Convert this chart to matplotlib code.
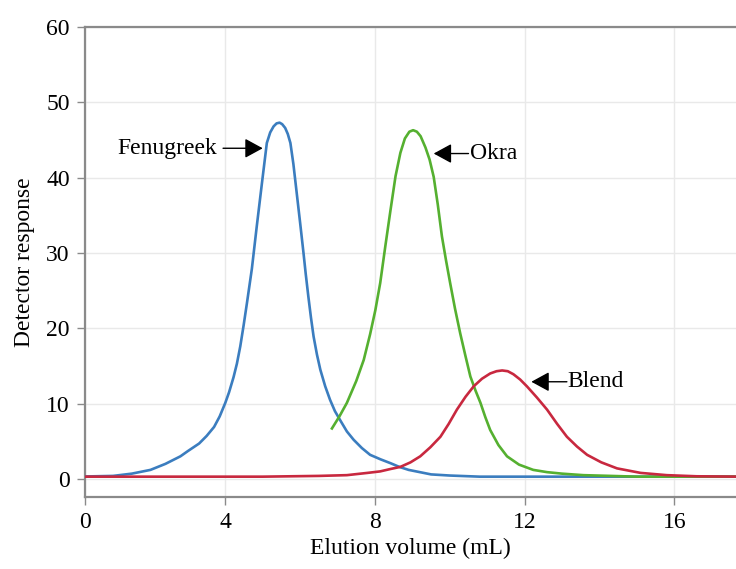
import matplotlib.pyplot as plt

plt.rcParams['font.family'] = ['Liberation Serif', 'DejaVu Serif']

# Fenugreek peak (blue)
fen_x = [0, 0.5, 1.0, 1.5, 2.0, 2.4, 2.8, 3.0, 3.3, 3.5, 3.7, 3.85, 4.0, 4.1, 4.22,
         4.31, 4.4, 4.49, 4.58, 4.71, 4.84, 4.98, 5.11, 5.2, 5.29, 5.37, 5.45, 5.52,
         5.6, 5.67, 5.74, 5.82, 5.91, 6.0, 6.09, 6.15, 6.22, 6.29, 6.36, 6.45, 6.54,
         6.67, 6.8, 6.93, 7.07, 7.25, 7.43, 7.65, 7.87, 8.15, 8.41, 8.65, 8.9, 9.2,
         9.5, 10.0, 10.8, 12.0, 17.7]
fen_y = [0.3, 0.35, 0.4, 0.7, 1.2, 2.0, 3.0, 3.7, 4.7, 5.7, 6.9, 8.3, 10.1, 11.5, 13.5,
         15.3, 17.6, 20.4, 23.4, 27.9, 33.5, 39.3, 44.6, 46.0, 46.8, 47.2, 47.3, 47.1,
         46.6, 45.8, 44.6, 41.8, 37.9, 34.0, 30.0, 27.2, 24.2, 21.4, 18.9, 16.5, 14.5,
         12.3, 10.5, 9.0, 7.8, 6.3, 5.2, 4.1, 3.2, 2.6, 2.1, 1.6, 1.2, 0.9,
         0.6, 0.45, 0.3, 0.3, 0.3]

# Okra peak (green)
okra_x = [6.85, 7.05, 7.25, 7.5, 7.7, 7.87, 8.01, 8.14, 8.28, 8.41, 8.55, 8.68, 8.8,
          8.92, 9.02, 9.12, 9.22, 9.35, 9.46, 9.57, 9.68, 9.79, 9.9, 10.01, 10.14,
          10.28, 10.42, 10.55, 10.69, 10.82, 10.95, 11.08, 11.3, 11.53, 11.85,
          12.23, 12.6, 13.0, 13.57, 14.3, 15.0, 17.7]
okra_y = [6.7, 8.3, 10.1, 13.0, 15.8, 19.2, 22.4, 26.0, 31.0, 35.5, 40.2, 43.3, 45.2,
          46.1, 46.3, 46.1, 45.5, 44.0, 42.4, 40.1, 36.4, 32.2, 29.0, 26.0, 22.6,
          19.3, 16.3, 13.6, 11.7, 10.1, 8.2, 6.5, 4.5, 3.0, 1.9,
          1.2, 0.9, 0.7, 0.5, 0.4, 0.3, 0.3]

# Blend peak (red)
blend_x = [0, 5.0, 6.5, 7.25, 7.8, 8.14, 8.4, 8.68, 8.95, 9.21, 9.48, 9.75, 9.97,
           10.19, 10.42, 10.64, 10.86, 11.08, 11.25, 11.4, 11.55, 11.7, 11.88, 12.06,
           12.33, 12.6, 12.87, 13.13, 13.4, 13.67, 14.05, 14.47, 15.1, 15.8, 16.6, 17.7]
blend_y = [0.3, 0.3, 0.4, 0.5, 0.8, 1.0, 1.3, 1.6, 2.2, 3.0, 4.2, 5.6, 7.3,
           9.2, 10.9, 12.3, 13.3, 14.0, 14.3, 14.4, 14.3, 13.9, 13.2, 12.3,
           10.8, 9.2, 7.3, 5.6, 4.3, 3.2, 2.2, 1.4, 0.8, 0.5, 0.35, 0.3]

xtick_pos = [0.25, 4, 8, 12, 16]
xtick_labels = ['0', '4', '8', '12', '16']
yticks = [0, 10, 20, 30, 40, 50, 60]

fig = plt.figure(figsize=(7.36, 5.69), dpi=100)
ax = fig.add_axes([85 / 736, 72 / 569, 651 / 736, 470 / 569])

ax.plot(fen_x, fen_y, color='#3b7dbf', lw=1.9, zorder=3, solid_joinstyle='round')
ax.plot(okra_x, okra_y, color='#55b030', lw=1.9, zorder=3, solid_joinstyle='round')
ax.plot(blend_x, blend_y, color='#c8283f', lw=1.9, zorder=4, solid_joinstyle='round')

ax.set_xlim(0.25, 17.65)
ax.set_ylim(-2.4, 60)
ax.set_xticks(xtick_pos, xtick_labels)
ax.set_yticks(yticks)
ax.grid(True, color='#e9e9e9', lw=1)
ax.set_axisbelow(True)

for side in ['left', 'top', 'bottom']:
    ax.spines[side].set_color('#8a8a8a')
    ax.spines[side].set_linewidth(1.6)
ax.spines['right'].set_visible(False)
ax.tick_params(colors='#8a8a8a', labelcolor='black', labelsize=17, length=6, width=1, pad=5)

ax.set_xlabel('Elution volume (mL)', fontsize=17, labelpad=3)
ax.set_ylabel('Detector response', fontsize=17, labelpad=8)

# peak labels with arrows
arrow = dict(arrowstyle='-|>,head_length=0.55,head_width=0.3', color='black', lw=1,
             mutation_scale=20, shrinkA=0, shrinkB=0)
ax.annotate('', xy=(5.0, 43.9), xytext=(3.94, 43.9), arrowprops=arrow)
ax.text(3.78, 43.9, 'Fenugreek', ha='right', va='center', fontsize=17)
ax.annotate('', xy=(9.57, 43.2), xytext=(10.5, 43.2), arrowprops=arrow)
ax.text(10.55, 43.2, 'Okra', ha='left', va='center', fontsize=17)
ax.annotate('', xy=(12.18, 12.9), xytext=(13.13, 12.9), arrowprops=arrow)
ax.text(13.15, 12.9, 'Blend', ha='left', va='center', fontsize=17)

fig.savefig('out.png', dpi=100)
